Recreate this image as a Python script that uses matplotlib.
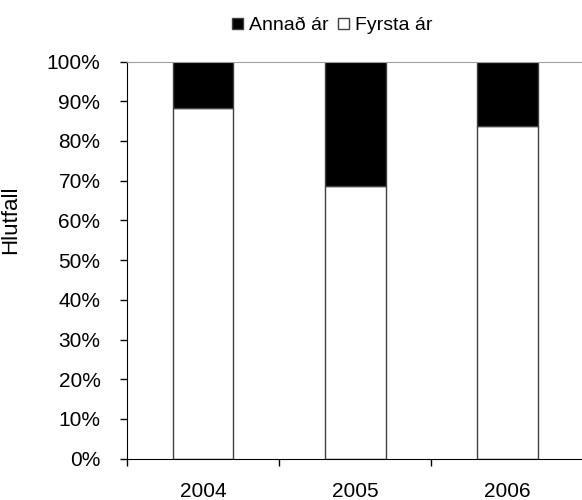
import numpy as np
import matplotlib
matplotlib.use('Agg')
import matplotlib.pyplot as plt
from matplotlib.ticker import FuncFormatter

plt.rcParams['font.family'] = ['Liberation Sans', 'DejaVu Sans']

# data to plot
years = ['2004', '2005', '2006']
fyrsta_ar = [88.3, 68.6, 83.8]
annad_ar = [100 - v for v in fyrsta_ar]

fig = plt.figure(figsize=(5.82, 5.0), dpi=100)
ax = fig.add_axes([0.218, 0.0826, 0.785, 0.7944])

index = np.arange(len(years)) + 0.5
bar_width = 0.4

ax.bar(index, fyrsta_ar, bar_width, color='white', edgecolor='#404040',
       linewidth=1.0, label='Fyrsta ár')
ax.bar(index, annad_ar, bar_width, bottom=fyrsta_ar, color='black',
       edgecolor='#404040', linewidth=1.0, label='Annað ár')

ax.set_xlim(0, 3)
ax.set_ylim(0, 100)
ax.set_yticks(np.arange(0, 101, 10))
ax.yaxis.set_major_formatter(FuncFormatter(lambda v, p: f'{v:.0f}%'))
ax.set_xticks(index)
ax.set_xticklabels(years)
ax.set_xticks([0, 1, 2, 3], minor=True)
ax.tick_params(axis='x', which='major', length=0, pad=17, labelsize=15)
ax.tick_params(axis='x', which='minor', length=5, width=1, direction='out')
ax.tick_params(axis='y', length=5, width=1, direction='out', labelsize=15, pad=14)

ax.spines['right'].set_visible(False)
ax.spines['top'].set_color('#a0a0a0')
for s in ['left', 'bottom']:
    ax.spines[s].set_color('black')

ax.set_ylabel('Hlutfall', fontsize=16)
ax.yaxis.set_label_coords(-0.232, 0.601)

handles, labels = ax.get_legend_handles_labels()
fig.legend(handles[::-1], labels[::-1], loc='center', ncol=2,
           bbox_to_anchor=(0.571, 0.948), frameon=False, fontsize=14,
           handlelength=0.55, handleheight=0.55, handletextpad=0.3,
           columnspacing=0.5)

fig.savefig('out.png', dpi=100)
